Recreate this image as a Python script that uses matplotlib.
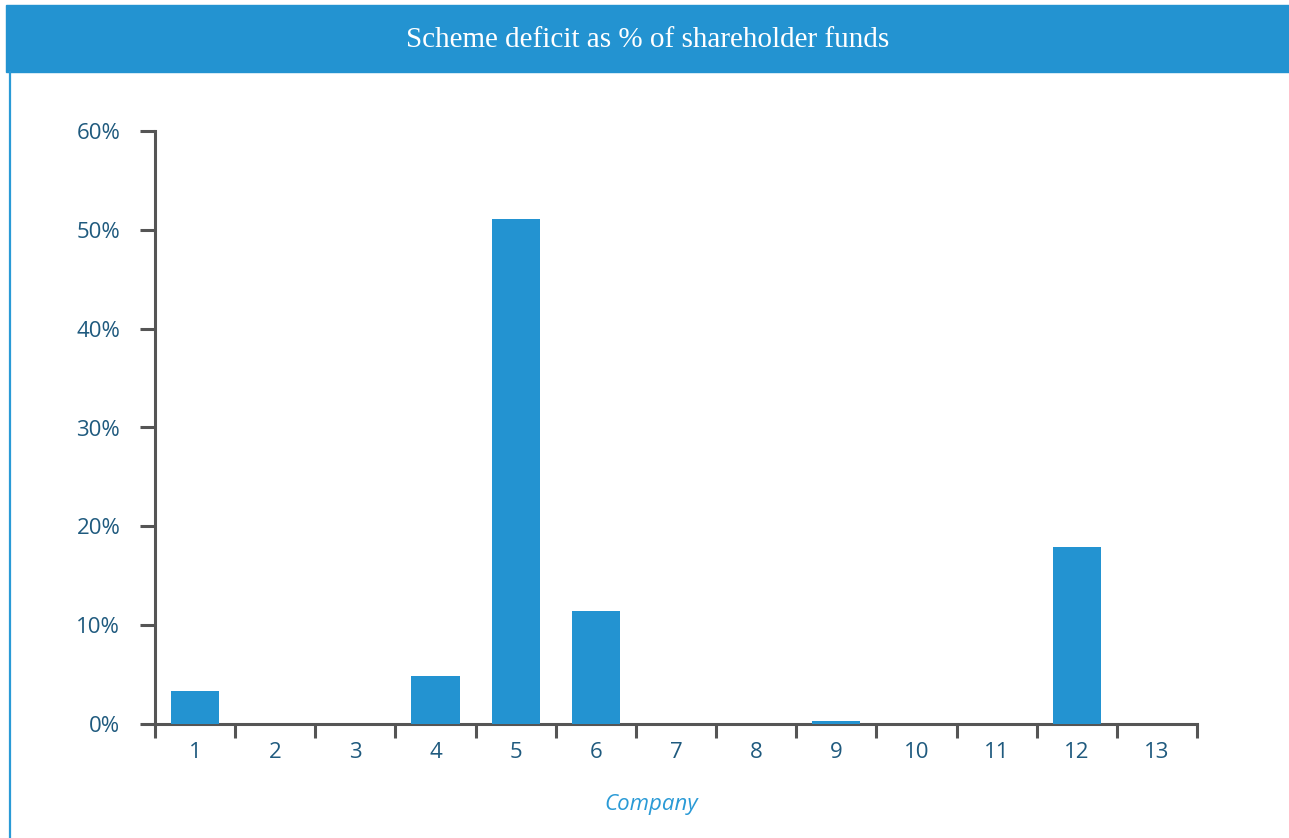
import matplotlib.pyplot as plt
from matplotlib.patches import Rectangle
from matplotlib.lines import Line2D
from matplotlib.ticker import FuncFormatter
import numpy as np

companies = ['1', '2', '3', '4', '5', '6', '7', '8', '9', '10', '11', '12', '13']
deficit_pct = [3.3, 0, 0, 4.9, 51.1, 11.4, 0, 0, 0.3, 0, 0, 17.9, 0]
y_ticks = [0, 10, 20, 30, 40, 50, 60]

bar_color = '#2393d1'
axis_color = '#555555'
label_color = '#1f5a7e'

fig = plt.figure(figsize=(12.89, 8.38), dpi=100)

# header band + left rule
fig.patches.append(Rectangle((6 / 1289, 1 - 72 / 838), 1 - 6 / 1289, 67 / 838,
                             transform=fig.transFigure, color=bar_color, zorder=0))
fig.lines.append(Line2D([9.5 / 1289, 9.5 / 1289], [0, 1 - 72 / 838],
                        transform=fig.transFigure, color='#2a9ad6', lw=1.6))
fig.text(648 / 1289, 1 - 40 / 838, 'Scheme deficit as % of shareholder funds',
         ha='center', va='center', color='white', fontsize=21,
         family='Liberation Serif')

ax = fig.add_axes([155 / 1289, 114 / 838, (1197 - 155) / 1289, (724 - 131) / 838])

x = np.arange(1, len(companies) + 1)
ax.bar(x, deficit_pct, width=0.6, color=bar_color, zorder=3)

ax.set_xlim(0.5, len(companies) + 0.5)
ax.set_ylim(0, 60)

for side in ('top', 'right'):
    ax.spines[side].set_visible(False)
for side in ('left', 'bottom'):
    ax.spines[side].set_color(axis_color)
    ax.spines[side].set_linewidth(2.2)

ax.set_yticks(y_ticks)
ax.yaxis.set_major_formatter(FuncFormatter(lambda v, p: f'{v:.0f}%'))
ax.tick_params(axis='y', length=11, width=2.2, color=axis_color, pad=14,
               labelsize=16, labelcolor=label_color)

ax.set_xticks(x)
ax.set_xticklabels(companies)
ax.set_xticks(np.arange(0.5, len(companies) + 1), minor=True)
ax.tick_params(axis='x', which='major', length=0, pad=13,
               labelsize=16, labelcolor=label_color)
ax.tick_params(axis='x', which='minor', length=10, width=2.2, color=axis_color)

for lab in ax.get_xticklabels() + ax.get_yticklabels():
    lab.set_family('Open Sans')

ax.set_xlabel('Company', fontsize=16, style='italic', color='#2a9ad6',
              family='Open Sans')
ax.xaxis.set_label_coords((651 - 155) / (1197 - 155), -(804 - 724) / (724 - 131))
ax.xaxis.label.set_verticalalignment('center')

fig.savefig('out.png', dpi=100)
